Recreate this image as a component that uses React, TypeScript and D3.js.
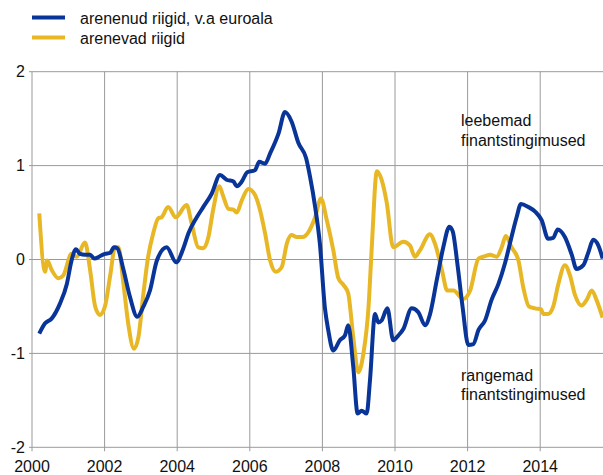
import React from 'react';
import * as d3 from 'd3';

// arenenud riigid, v.a euroala (blue)
const advYears = [
  2000.2, 2000.36, 2000.54, 2000.77, 2000.96, 2001.09, 2001.21, 2001.32, 2001.46, 2001.6,
  2001.72, 2001.87, 2002.01, 2002.15, 2002.26, 2002.35, 2002.52, 2002.7, 2002.9, 2003.07,
  2003.25, 2003.44, 2003.71, 2003.97, 2004.17, 2004.31, 2004.54, 2004.72, 2004.95, 2005.18,
  2005.36, 2005.55, 2005.64, 2005.78, 2005.93, 2006.14, 2006.26, 2006.42, 2006.56, 2006.79,
  2006.97, 2007.15, 2007.34, 2007.55, 2007.66, 2007.8, 2007.93, 2008.07, 2008.16, 2008.3,
  2008.48, 2008.62, 2008.71, 2008.85, 2008.97, 2009.08, 2009.22, 2009.31, 2009.45, 2009.54,
  2009.63, 2009.79, 2009.95, 2010.09, 2010.23, 2010.46, 2010.64, 2010.83, 2010.96, 2011.15,
  2011.33, 2011.5, 2011.59, 2011.72, 2011.86, 2012.02, 2012.16, 2012.3, 2012.48, 2012.66,
  2012.85, 2013.03, 2013.21, 2013.35, 2013.47, 2013.67, 2013.86, 2014.04, 2014.22, 2014.36,
  2014.48, 2014.68, 2014.87, 2015.0, 2015.19, 2015.33, 2015.46, 2015.6, 2015.72,
];
const advValues = [
  -0.79, -0.68, -0.63, -0.47, -0.26, -0.01, 0.11, 0.06, 0.05, 0.05,
  0.01, 0.035, 0.06, 0.07, 0.13, 0.12, -0.11, -0.4, -0.61, -0.5,
  -0.33, -0.01, 0.13, -0.03, 0.12, 0.28, 0.45, 0.56, 0.7, 0.9,
  0.85, 0.83, 0.78, 0.83, 0.93, 0.95, 1.04, 1.02, 1.13, 1.34,
  1.57, 1.47, 1.24, 1.08, 0.88, 0.56, 0.17, -0.52, -0.75, -0.97,
  -0.86, -0.81, -0.7, -1.14, -1.64, -1.61, -1.64, -1.29, -0.58, -0.67,
  -0.65, -0.52, -0.86, -0.81, -0.74, -0.52, -0.56, -0.7, -0.59, -0.22,
  0.13, 0.35, 0.3, -0.05, -0.5, -0.91, -0.9, -0.75, -0.65, -0.43,
  -0.26, -0.04, 0.24, 0.45, 0.59, 0.56, 0.51, 0.42, 0.22, 0.23,
  0.32, 0.24, 0.05, -0.1, -0.06, 0.08, 0.21, 0.15, 0.01,
];

// arenevad riigid (yellow)
const emYears = [
  2000.2, 2000.36, 2000.42, 2000.54, 2000.73, 2000.86, 2001.09, 2001.23, 2001.46, 2001.6,
  2001.74, 2001.87, 2002.01, 2002.15, 2002.29, 2002.38, 2002.52, 2002.65, 2002.81, 2002.93,
  2003.07, 2003.2, 2003.34, 2003.48, 2003.57, 2003.75, 2003.96, 2004.26, 2004.4, 2004.58,
  2004.72, 2004.86, 2004.99, 2005.16, 2005.27, 2005.41, 2005.55, 2005.64, 2005.78, 2005.96,
  2006.14, 2006.28, 2006.42, 2006.56, 2006.72, 2006.88, 2007.02, 2007.15, 2007.29, 2007.46,
  2007.61, 2007.8, 2007.96, 2008.12, 2008.3, 2008.44, 2008.58, 2008.71, 2008.85, 2008.99,
  2009.13, 2009.27, 2009.36, 2009.5, 2009.63, 2009.77, 2009.95, 2010.23, 2010.41, 2010.55,
  2010.69, 2010.96, 2011.1, 2011.29, 2011.44, 2011.61, 2011.88, 2012.07, 2012.3, 2012.48,
  2012.62, 2012.8, 2012.94, 2013.05, 2013.21, 2013.4, 2013.53, 2013.69, 2013.86, 2014.02,
  2014.09, 2014.22, 2014.36, 2014.5, 2014.68, 2014.82, 2014.96, 2015.14, 2015.28, 2015.42,
  2015.55, 2015.72,
];
const emValues = [
  0.49, -0.13, -0.01, -0.11, -0.2, -0.17, 0.06, 0.03, 0.18, -0.11,
  -0.5, -0.59, -0.5, -0.18, 0.13, 0.13, -0.26, -0.68, -0.95, -0.83,
  -0.36, 0.03, 0.28, 0.44, 0.45, 0.56, 0.45, 0.58, 0.38, 0.13,
  0.12, 0.24, 0.53, 0.78, 0.67, 0.54, 0.53, 0.5, 0.63, 0.75,
  0.69, 0.53, 0.28, -0.01, -0.13, -0.08, 0.17, 0.26, 0.24, 0.24,
  0.29, 0.45, 0.65, 0.42, 0.1, -0.2, -0.27, -0.36, -0.83, -1.2,
  -1.0, -0.51, 0.13, 0.94, 0.85, 0.61, 0.13, 0.19, 0.15, 0.03,
  0.1, 0.27, 0.17, -0.11, -0.33, -0.33, -0.42, -0.33, 0.01, 0.035,
  0.05, 0.03, 0.13, 0.25, 0.13, -0.01, -0.29, -0.5, -0.52, -0.53,
  -0.58, -0.58, -0.5, -0.26, -0.06, -0.17, -0.38, -0.49, -0.43, -0.33,
  -0.43, -0.62,
];

const xTicks = [2000, 2002, 2004, 2006, 2008, 2010, 2012, 2014];
const yTicks = [-2, -1, 0, 1, 2];

const seriesNames = ['arenenud riigid, v.a euroala', 'arenevad riigid'];
const BLUE = '#0A3598';
const YELLOW = '#E8B725';
const GRID = '#9a9a9a';
const FONT = 'Liberation Sans, Arial, sans-serif';

export default function App() {
  const width = 603;
  const height = 475;
  const left = 32;

  const x = d3.scaleLinear().domain([2000, 2015.73]).range([left, width]);
  const y = d3.scaleLinear().domain([-2, 2]).range([447.3, 71.7]);

  const line = d3
    .line<[number, number]>()
    .x((d) => x(d[0]))
    .y((d) => y(d[1]))
    .curve(d3.curveMonotoneX);

  const adv = advYears.map((t, i) => [t, advValues[i]] as [number, number]);
  const em = emYears.map((t, i) => [t, emValues[i]] as [number, number]);

  return (
    <svg
      width={width}
      height={height}
      style={{ position: 'absolute', left: 0, top: 0, background: '#fff' }}
      fontFamily={FONT}
    >
      <defs>
        <clipPath id="plot">
          <rect x={left} y={60} width={width - left} height={400} />
        </clipPath>
      </defs>

      {/* grid */}
      {yTicks.map((v) => (
        <line key={'h' + v} x1={left - 3} x2={width} y1={y(v)} y2={y(v)} stroke={GRID} strokeWidth={1} />
      ))}
      {xTicks.map((t) => (
        <line key={'v' + t} x1={x(t)} x2={x(t)} y1={y(2)} y2={y(-2) + 4} stroke={GRID} strokeWidth={1} />
      ))}

      {/* tick labels */}
      {yTicks.map((v) => (
        <text key={'yl' + v} x={25} y={y(v) + 5.5} textAnchor="end" fontSize={16} fill="#111">
          {v}
        </text>
      ))}
      {xTicks.map((t) => (
        <text key={'xl' + t} x={x(t)} y={472} textAnchor="middle" fontSize={16} fill="#111">
          {t}
        </text>
      ))}

      {/* series */}
      <g clipPath="url(#plot)">
        <path d={line(em) || ''} fill="none" stroke={YELLOW} strokeWidth={4} strokeLinejoin="round" />
        <path d={line(adv) || ''} fill="none" stroke={BLUE} strokeWidth={4} strokeLinejoin="round" />
      </g>

      {/* annotations */}
      <text x={461} y={126} fontSize={16} fill="#111">leebemad</text>
      <text x={461} y={146} fontSize={16} fill="#111">finantstingimused</text>
      <text x={461} y={381} fontSize={16} fill="#111">rangemad</text>
      <text x={461} y={400} fontSize={16} fill="#111">finantstingimused</text>

      {/* legend */}
      {[BLUE, YELLOW].map((c, i) => (
        <g key={'lg' + i}>
          <line x1={32} x2={65} y1={17.5 + i * 20} y2={17.5 + i * 20} stroke={c} strokeWidth={4} />
          <text x={80} y={23.5 + i * 20} fontSize={16} fill="#111">
            {seriesNames[i]}
          </text>
        </g>
      ))}
    </svg>
  );
}
